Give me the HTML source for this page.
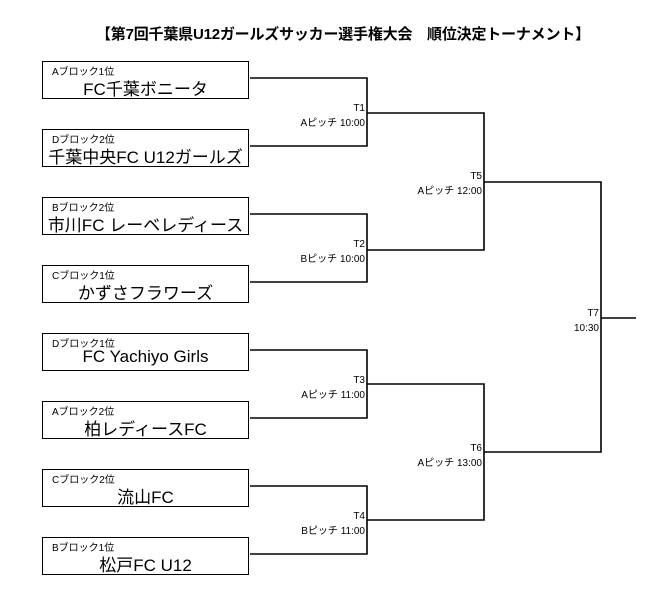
<!DOCTYPE html>
<html><head><meta charset="utf-8"><style>
body{margin:0;width:648px;height:589px;background:#fff;position:relative;font-family:"Liberation Sans","Noto Sans CJK JP",sans-serif;color:#000;overflow:hidden}
.t{position:absolute;white-space:nowrap}
.box{position:absolute;left:42px;width:205px;height:36px;border:1.5px solid #000}
.box .s{position:absolute;left:9px;top:1px;font-size:10px}
.box .n{position:absolute;left:0;right:0;top:13px;text-align:center;font-size:17px}
.lb{position:absolute;text-align:right;font-size:10px;line-height:15px;white-space:nowrap}
</style></head><body>
<div class="t" style="left:96px;top:23px;font-size:15px;font-weight:bold;letter-spacing:-0.2px">【第7回千葉県U12ガールズサッカー選手権大会　順位決定トーナメント】</div>

<div class="box" style="top:61px"><div class="s">Aブロック1位</div><div class="n">FC千葉ボニータ</div></div>
<div class="box" style="top:129px"><div class="s">Dブロック2位</div><div class="n">千葉中央FC U12ガールズ</div></div>
<div class="box" style="top:197px"><div class="s">Bブロック2位</div><div class="n">市川FC レーベレディース</div></div>
<div class="box" style="top:265px"><div class="s">Cブロック1位</div><div class="n">かずさフラワーズ</div></div>
<div class="box" style="top:333px"><div class="s">Dブロック1位</div><div class="n">FC Yachiyo Girls</div></div>
<div class="box" style="top:401px"><div class="s">Aブロック2位</div><div class="n">柏レディースFC</div></div>
<div class="box" style="top:469px"><div class="s">Cブロック2位</div><div class="n">流山FC</div></div>
<div class="box" style="top:537px"><div class="s">Bブロック1位</div><div class="n">松戸FC U12</div></div>

<svg style="position:absolute;left:0;top:0" width="648" height="589" fill="none" stroke="#000" stroke-width="1.6">
<path d="M250 78H367V146H250M250 214H367V282H250M250 350H367V418H250M250 486H367V554H250"/>
<path d="M367 113H484V250H367M367 384H484V520H367"/>
<path d="M484 182H601V452H484M601 318H636"/>
</svg>

<div class="lb" style="right:283px;top:101px">T1<br>Aピッチ 10:00</div>
<div class="lb" style="right:283px;top:237px">T2<br>Bピッチ 10:00</div>
<div class="lb" style="right:283px;top:373px">T3<br>Aピッチ 11:00</div>
<div class="lb" style="right:283px;top:509px">T4<br>Bピッチ 11:00</div>
<div class="lb" style="right:166px;top:169px">T5<br>Aピッチ 12:00</div>
<div class="lb" style="right:166px;top:441px">T6<br>Aピッチ 13:00</div>
<div class="lb" style="right:49px;top:306px">T7<br>10:30</div>
</body></html>
